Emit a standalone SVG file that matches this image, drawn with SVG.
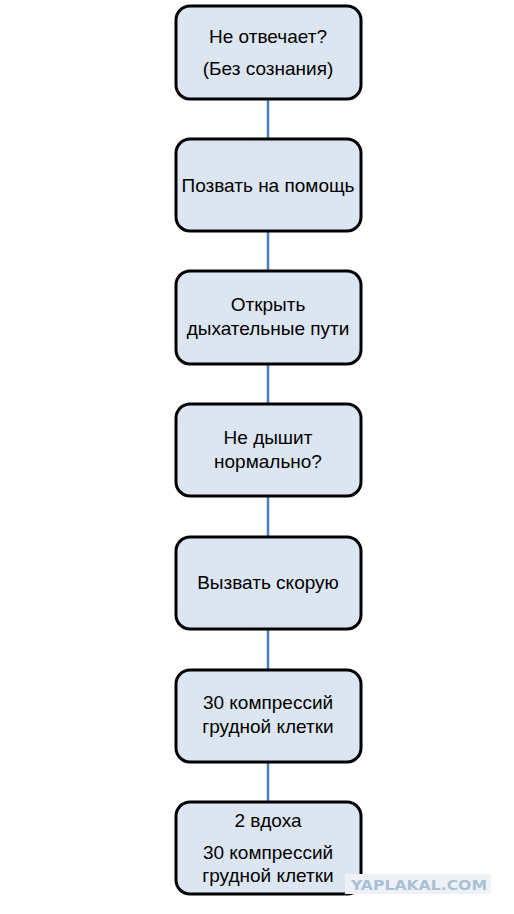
<svg xmlns="http://www.w3.org/2000/svg" width="514" height="914" viewBox="0 0 514 914">
<style>
.box{fill:#dce6f2;stroke:#000;stroke-width:3}
.t{font-family:"Liberation Sans",Arial,sans-serif;font-size:19px;fill:#000;text-anchor:middle}
.c{stroke:#4a7ebb;stroke-width:2.5;fill:none}
</style>
<rect width="514" height="914" fill="#fff"/>
<g id="connectors">
<line class="c" x1="268" y1="99" x2="268" y2="139"/>
<line class="c" x1="268" y1="231" x2="268" y2="271"/>
<line class="c" x1="268" y1="364" x2="268" y2="404"/>
<line class="c" x1="268" y1="496" x2="268" y2="537"/>
<line class="c" x1="268" y1="629" x2="268" y2="670"/>
<line class="c" x1="268" y1="762" x2="268" y2="802"/>
</g>
<g id="n1"><rect class="box" x="176" y="6" width="185" height="93" rx="14"/>
<text class="t" x="268" y="43">Не отвечает?</text><text class="t" x="268" y="75">(Без сознания)</text></g>
<g id="n2"><rect class="box" x="176" y="139" width="185" height="92" rx="14"/>
<text class="t" x="268" y="192">Позвать на помощь</text></g>
<g id="n3"><rect class="box" x="176" y="271" width="185" height="93" rx="14"/>
<text class="t" x="268" y="311">Открыть</text><text class="t" x="268" y="335">дыхательные пути</text></g>
<g id="n4"><rect class="box" x="176" y="404" width="185" height="92" rx="14"/>
<text class="t" x="268" y="444">Не дышит</text><text class="t" x="268" y="468">нормально?</text></g>
<g id="n5"><rect class="box" x="176" y="537" width="185" height="92" rx="14"/>
<text class="t" x="268" y="589">Вызвать скорую</text></g>
<g id="n6"><rect class="box" x="176" y="670" width="185" height="92" rx="14"/>
<text class="t" x="268" y="709">30 компрессий</text><text class="t" x="268" y="733">грудной клетки</text></g>
<g id="n7"><rect class="box" x="176" y="802" width="185" height="92" rx="14"/>
<text class="t" x="268" y="827">2 вдоха</text><text class="t" x="268" y="859">30 компрессий</text><text class="t" x="268" y="882">грудной клетки</text></g>
<g id="watermark">
<rect x="345" y="874" width="146" height="20" fill="#eef2f6"/>
<text x="419" y="890" font-family="DejaVu Sans,sans-serif" font-weight="bold" font-size="14" fill="#a9c0d6" text-anchor="middle" textLength="136" lengthAdjust="spacingAndGlyphs">YAPLAKAL.COM</text>
</g>
</svg>
